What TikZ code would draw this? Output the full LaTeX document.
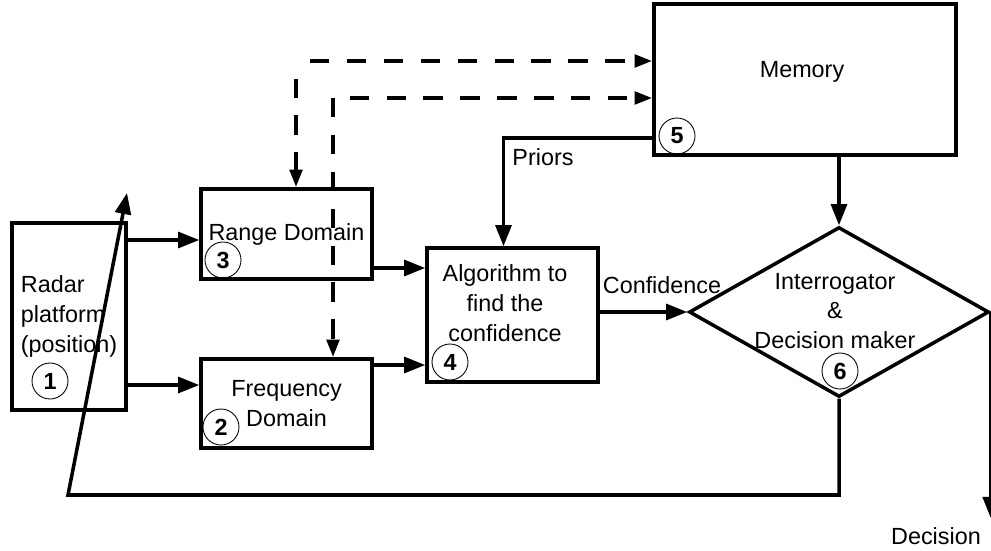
\documentclass[tikz,border=0pt]{standalone}
\usepackage{fontspec}
\setmainfont{Liberation Sans}
\usetikzlibrary{arrows.meta,shapes.geometric}
\begin{document}
\begin{tikzpicture}[x=0.02cm,y=-0.02cm,
        font=\fontsize{13.3}{17}\selectfont,
        box/.style={draw,line width=2pt,inner sep=0pt,align=center},
        decision/.style={draw,diamond,line width=2pt,minimum width=6cm,minimum height=3.4cm,inner sep=0pt},
        numcircle/.style={draw,circle,line width=0.5pt,minimum size=0.72cm,inner sep=0pt,font=\fontsize{13.3}{17}\selectfont\bfseries},
        arrowline/.style={line width=2pt,-{Triangle[length=12pt,width=9pt]}},
        dasharrow/.style={line width=2.2pt,dash pattern=on 11pt off 10pt,-{Triangle[length=10pt,width=7pt]}}]
                \useasboundingbox (0,0) rectangle (991,551);

                \node[box,align=left,minimum width=2.28cm,minimum height=3.74cm] (radar) at (69,316.5) {Radar\\platform\\(position)};
                \node[box,minimum width=3.42cm,minimum height=1.8cm] (range) at (286.5,234) {Range Domain};
                \node[box,minimum width=3.42cm,minimum height=1.78cm] (freq) at (286.5,403.5) {Frequency\\Domain};
                \node[box,minimum width=3.42cm,minimum height=2.68cm] (alg) at (512.5,315) {};
                \node[box,minimum width=6.04cm,minimum height=3.02cm] (mem) at (805,79.5) {};
                \node[decision] (dm) at (839,312) {};

                \node[align=center] (algtext) at (505,303) {Algorithm to\\find the\\confidence};
                \node (memtext) at (802,72) {Memory};
                \node[align=center] (dmtext) at (835,311) {Interrogator\\\&\\Decision maker};

                \node[numcircle] (n1) at (50,381) {1};
                \node[numcircle] (n2) at (221,427) {2};
                \node[numcircle] (n3) at (223,260) {3};
                \node[numcircle] (n4) at (450,362) {4};
                \node[numcircle] (n5) at (677,136) {5};
                \node[numcircle] (n6) at (840,371) {6};

                \draw[arrowline] ([yshift=-0.12cm]range.west -| radar.east) -- ([yshift=-0.12cm]range.west);
                \draw[arrowline] ([yshift=0.37cm]freq.west -| radar.east) -- ([yshift=0.37cm]freq.west);
                \draw[arrowline] ([yshift=-0.68cm]range.east) -- ([yshift=-0.68cm]range.east -| alg.west);
                \draw[arrowline] ([yshift=0.77cm]freq.east) -- ([yshift=0.77cm]freq.east -| alg.west);
                \draw[arrowline] (alg.east |- dm.west) -- (dm.west);
                \draw[arrowline] ([yshift=0.38cm]mem.south west) -| ([xshift=-0.18cm]alg.north);
                \draw[arrowline] (mem.south -| dm.north) -- (dm.north);

                \coordinate (dashA) at (296,61);
                \coordinate (dashB) at (333,98);
                \draw[dasharrow,dash phase=13pt] (dashA) -- (dashA -| mem.west);
                \draw[dasharrow,dash phase=11pt] (dashA) -- (dashA |- range.north);
                \draw[dasharrow,dash phase=11.5pt] (dashB) -- (dashB -| mem.west);
                \draw[dasharrow] (dashB) -- (dashB |- freq.north);

                \coordinate (decout) at (988,518);
                \draw[arrowline] (dm.east) -- (dm.east |- decout);

                \coordinate (loopA) at (840,495);
                \coordinate (loopB) at (68,495);
                \coordinate (loopC) at (127,193);
                \draw[arrowline] (dm.south) -- (dm.south |- loopA) -- (loopB) -- (loopC);

                \node (priorslabel) at (543,157) {Priors};
                \node (conflabel) at (662,285) {Confidence};
                \node (declabel) at (936,536) {Decision};

            \end{tikzpicture}
\end{document}
